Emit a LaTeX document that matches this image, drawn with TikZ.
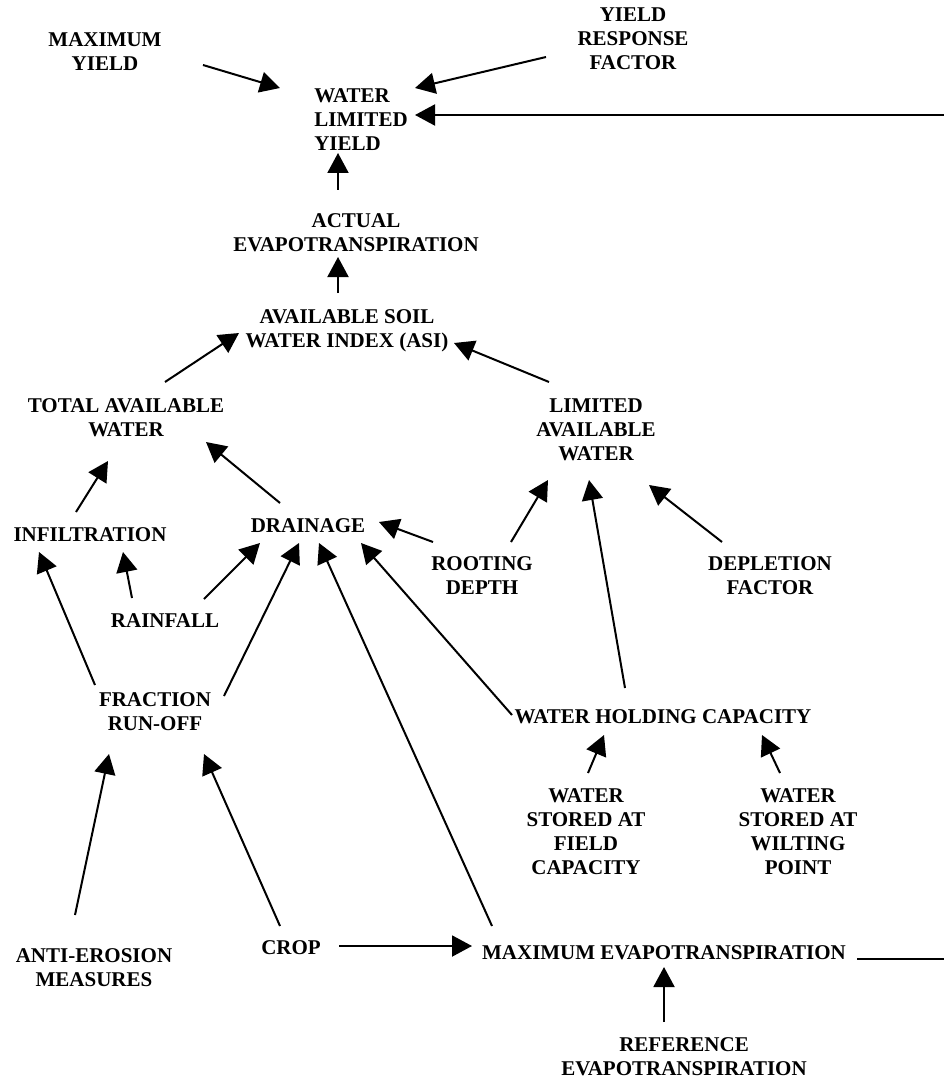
\documentclass[tikz,border=0pt]{standalone}
\usepackage{fontspec}
\setmainfont{Liberation Serif}
\usetikzlibrary{arrows.meta}

\begin{document}
\begin{tikzpicture}[x=1pt, y=-1pt,
  box/.style={font=\bfseries\fontsize{21}{24}\selectfont, align=center, inner sep=0pt},
  arr/.style={-{Triangle[length=20pt,width=21pt]}, line width=2pt}]
\fill[white] (0,0) rectangle (943,1078);
\useasboundingbox (0,0) rectangle (943,1078);

% yield part
\node[box] (maxy) at (105,51.5) {MAXIMUM\\YIELD};
\node[box] (yrf) at (633,39) {YIELD\\RESPONSE\\FACTOR};
\node[box, align=left] (wly) at (361,120) {WATER\\LIMITED\\YIELD};
\node[box] (ae) at (356,232.5) {ACTUAL\\EVAPOTRANSPIRATION};
\node[box] (asi) at (347,331) {AVAILABLE SOIL\\WATER INDEX (ASI)};

% water balance
\node[box] (taw) at (126,417.5) {TOTAL AVAILABLE\\WATER};
\node[box] (law) at (596,430) {LIMITED\\AVAILABLE\\WATER};
\node[box] (inf) at (90,534.5) {INFILTRATION};
\node[box] (drain) at (308,526) {DRAINAGE};
\node[box] (root) at (482,576) {ROOTING\\DEPTH};
\node[box] (depl) at (770,576) {DEPLETION\\FACTOR};
\node[box] (rain) at (165,620.5) {RAINFALL};
\node[box] (fro) at (155,712) {FRACTION\\RUN-OFF};
\node[box] (whc) at (663,717) {WATER HOLDING CAPACITY};
\node[box] (wsfc) at (586,832) {WATER\\STORED AT\\FIELD\\CAPACITY};
\node[box] (wswp) at (798,832) {WATER\\STORED AT\\WILTING\\POINT};

% bottom row
\node[box] (aem) at (94,968) {ANTI-EROSION\\MEASURES};
\node[box] (crop) at (291,948) {CROP};
\node[box] (maxet) at (664,952.5) {MAXIMUM EVAPOTRANSPIRATION};
\node[box] (ref) at (684,1056.5) {REFERENCE\\EVAPOTRANSPIRATION};

% arrows: source/shift -> target/shift
\foreach \s/\sx/\sy/\t/\tx/\ty in {
  maxy/98/13.5/wly/-81/-32, yrf/-87/18/wly/54/-32,
  ae/-18/-42.5/wly/-23/33, asi/-9/-38/ae/-18/24.5,
  taw/39/-35.5/asi/-108/2, law/-47/-48/asi/107/12,
  inf/-14/-22.5/taw/-18/43.5, drain/-28/-23/taw/80/24.5,
  root/29/-34/law/-48/50, whc/-38/-29/law/-7/50, depl/-48/-34/law/53/55,
  root/-49/-34/drain/71/-4, rain/-33/-22.5/inf/33/17.5, fro/-60/-27/inf/-51/17.5,
  rain/39/-21.5/drain/-48/17, fro/69/-16/drain/-9/17,
  maxet/-172/-26.5/drain/11/17, whc/-151/-2/drain/53/17,
  aem/-19/-53/fro/-46/42, crop/-11/-22/fro/49/42,
  wsfc/2/-59/whc/-59/18, wswp/-18/-59/whc/99/18,
  crop/48/-2/maxet/-192/-6.5, ref/-20/-34.5/maxet/0/14.5}
  \draw[arr] ([shift={(\sx,\sy)}]\s.center) -- ([shift={(\tx,\ty)}]\t.center);

% feedback from maximum evapotranspiration, running past the right edge
\draw[arr] ([shift={(193,6.5)}]maxet.center) -| (955,115) -- ([shift={(54,-5)}]wly.center);
\end{tikzpicture}
\end{document}
